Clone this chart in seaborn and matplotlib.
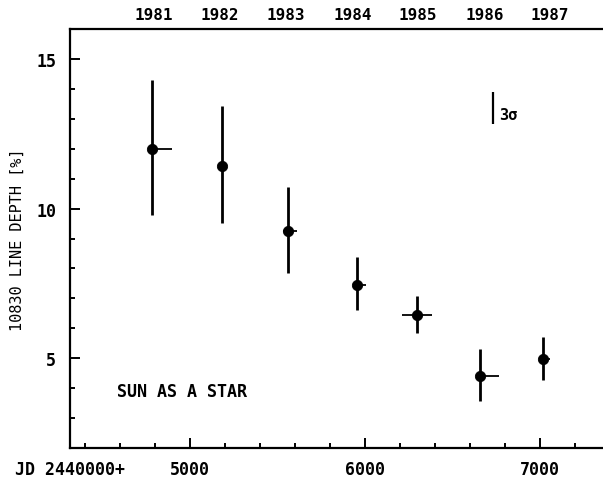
import numpy as np
import pandas as pd
import matplotlib
matplotlib.use("Agg")
import matplotlib.pyplot as plt
import seaborn as sns

# Data
jd = [4783, 5185, 5562, 5954, 6299, 6657, 7017]
depth = [12.0, 11.41, 9.26, 7.45, 6.46, 4.41, 4.97]
depth_low = [9.8, 9.51, 7.85, 6.61, 5.85, 3.58, 4.28]
depth_high = [14.3, 13.42, 10.72, 8.37, 7.07, 5.31, 5.72]
jd_left = [25, 0, 30, 0, 85, 0, 0]
jd_right = [115, 0, 50, 49, 83, 109, 40]

years = ["1981", "1982", "1983", "1984", "1985", "1986", "1987"]
year_pos = [4790, 5170, 5545, 5930, 6300, 6685, 7055]

sigma_x = 6731
sigma_low, sigma_high = 12.83, 13.9

df = pd.DataFrame({"jd": jd, "depth": depth})

sns.set_style("ticks")
plt.rcParams["font.family"] = ["DejaVu Sans Mono", "DejaVu Sans"]
plt.rcParams["font.weight"] = "bold"
plt.rcParams["text.color"] = "black"
plt.rcParams["axes.labelcolor"] = "black"
plt.rcParams["xtick.color"] = "black"
plt.rcParams["ytick.color"] = "black"

fig = plt.figure(figsize=(6.03, 4.89), dpi=100)
ax = fig.add_axes([70 / 603, 1 - 449 / 489, 533 / 603, (449 - 30) / 489])

yerr = [np.array(depth) - np.array(depth_low), np.array(depth_high) - np.array(depth)]
ax.errorbar(jd, depth, yerr=yerr, fmt="none", ecolor="black", elinewidth=2.0, capsize=0)
ax.errorbar(jd, depth, xerr=[jd_left, jd_right], fmt="none", ecolor="black", elinewidth=1.3, capsize=0)
sns.scatterplot(data=df, x="jd", y="depth", ax=ax, color="black", s=55, edgecolor="black", zorder=5)

ax.vlines(sigma_x, sigma_low, sigma_high, color="black", lw=1.6)
ax.text(sigma_x + 35, 13.15, "3σ", fontsize=11, va="center", ha="left", color="black")
ax.text(4583, 3.9, "SUN AS A STAR", fontsize=12, va="center", ha="left", color="black")

ax.set_xlim(4314, 7360)
ax.set_ylim(2, 16)
ax.set_xticks([5000, 6000, 7000])
ax.set_xticks(np.arange(4400, 7300, 200), minor=True)
ax.set_yticks([5, 10, 15])
ax.set_yticks(np.arange(3, 16, 1), minor=True)
ax.tick_params(which="both", direction="in", width=1.4, color="black", labelcolor="black", labelsize=12)
ax.tick_params(which="major", length=7)
ax.tick_params(which="minor", length=3.5)
ax.tick_params(axis="x", pad=9)
ax.tick_params(axis="y", pad=10)
ax.set_xlabel("")
ax.set_ylabel("10830 LINE DEPTH [%]", fontsize=11, labelpad=8, color="black", fontweight="normal")

for s in ["left", "bottom", "top"]:
    ax.spines[s].set_linewidth(1.6)
    ax.spines[s].set_color("black")
ax.spines["right"].set_visible(False)

ax2 = ax.twiny()
ax2.set_xlim(ax.get_xlim())
ax2.set_xticks(year_pos)
ax2.set_xticklabels(years)
ax2.tick_params(axis="x", length=0, pad=5, labelsize=11.5, labelcolor="black")
for s in ["left", "bottom", "right", "top"]:
    ax2.spines[s].set_visible(False)

fig.text(15 / 603, 1 - 470 / 489, "JD 2440000+", fontsize=12, va="center", ha="left", color="black")

fig.savefig("out.png", dpi=100)
